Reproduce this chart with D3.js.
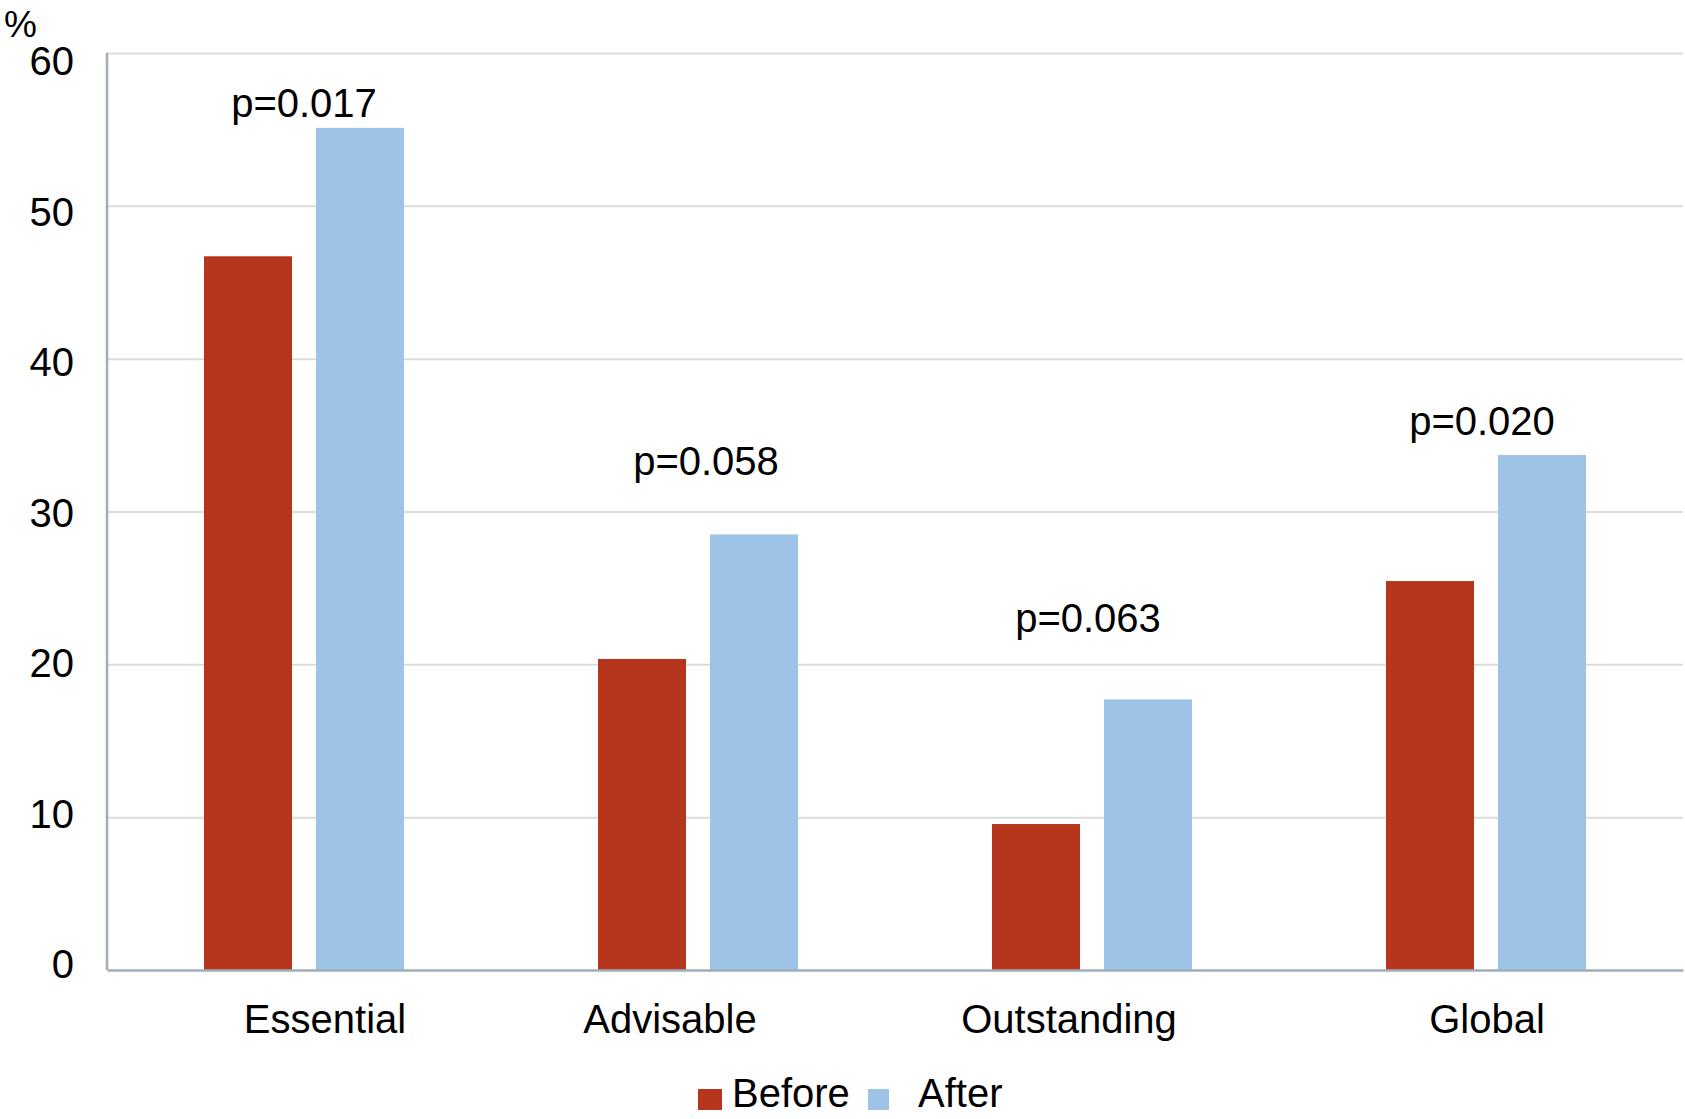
<!DOCTYPE html>
<html>
<head>
<meta charset="utf-8">
<script src="https://cdn.jsdelivr.net/npm/d3@7"></script>
<style>
	body { margin: 0; background: #fff; }
	svg { display: block; font-family: "Liberation Sans", Arial, Helvetica, sans-serif; }
</style>
</head>
<body>
<div id="chart"></div>
<script>
// ----- data -----
var categories = ["Essential", "Advisable", "Outstanding", "Global"]
var series = ["Before", "After"]
var before = [46.7, 20.35, 9.55, 25.45]
var after = [55.1, 28.5, 17.7, 33.7]
var pValues = ["p=0.017", "p=0.058", "p=0.063", "p=0.020"]
var yTicks = [0, 10, 20, 30, 40, 50, 60]

// ----- layout (hand placed in the original) -----
var pLabelAt = [55.8, 32.4, 22.1, 35.0]   // baseline of the p label, in % units
var pNudge = [0, 8, -4, -4]                // x offset of p labels, px
var labelNudge = [21, -28, -23, 1]         // x offset of category labels, px

var W = 1685, H = 1119
var margin = {top: 53, right: 2, bottom: 149, left: 107}
var color = {Before: "#b5361c", After: "#9dc3e6"}

var svg = d3.select("#chart").append("svg")
	.attr("width", W)
	.attr("height", H)

var y = d3.scaleLinear()
	.domain([0, 60])
	.range([H - margin.bottom, margin.top])

// the tick labels in the original sit on a slightly tighter scale than the grid
var yLabel = d3.scaleLinear()
	.domain([0, 60])
	.range([963.5, 60.5])

var x0 = d3.scaleBand()
	.domain(categories)
	.range([margin.left, W - margin.right])
	.padding(0)

var bw = x0.bandwidth()
var x1 = d3.scaleBand()
	.domain(series)
	.range([bw / 2 - 100, bw / 2 + 100])
	.paddingInner(0.214)

// grid lines
svg.append("g")
	.attr("class", "grid")
	.attr("transform", "translate(" + margin.left + ",0)")
	.call(d3.axisLeft(y).tickValues(yTicks.slice(1)).tickSize(-(W - margin.left - margin.right)).tickFormat(""))
	.call(function(g) {
		g.select(".domain").remove()
		g.selectAll("line").attr("stroke", "#dcdcdc").attr("stroke-width", 2)
	})

// y axis labels
svg.append("g")
	.attr("class", "y axis")
	.attr("transform", "translate(" + margin.left + ",0)")
	.call(d3.axisLeft(yLabel).tickValues(yTicks).tickSize(0).tickPadding(33))
	.call(function(g) {
		g.select(".domain").remove()
		g.selectAll("text").attr("font-size", 40).attr("fill", "#000").attr("dy", "0.36em")
	})

// bars
var rows = categories.map(function(c, i) {
	return {cat: c, vals: [{s: "Before", v: before[i]}, {s: "After", v: after[i]}]}
})

var group = svg.append("g")
	.selectAll("g")
	.data(rows)
	.enter()
	.append("g")
	.attr("transform", function(d) { return "translate(" + x0(d.cat) + ",0)" })

group.selectAll("rect")
	.data(function(d) { return d.vals })
	.enter()
	.append("rect")
	.attr("x", function(d) { return x1(d.s) })
	.attr("width", x1.bandwidth())
	.attr("y", function(d) { return y(d.v) })
	.attr("height", function(d) { return y(0) - y(d.v) })
	.attr("fill", function(d) { return color[d.s] })

// p values
svg.append("g")
	.selectAll("text")
	.data(pValues)
	.enter()
	.append("text")
	.attr("x", function(d, i) { return x0(categories[i]) + bw / 2 + pNudge[i] })
	.attr("y", function(d, i) { return y(pLabelAt[i]) })
	.attr("text-anchor", "middle")
	.attr("font-size", 40)
	.text(function(d) { return d })

// left axis line
svg.append("line")
	.attr("x1", margin.left).attr("x2", margin.left)
	.attr("y1", y(60)).attr("y2", y(0))
	.attr("stroke", "#9eafbb").attr("stroke-width", 2.5)

// x axis
svg.append("g")
	.attr("class", "x axis")
	.attr("transform", "translate(0," + y(0) + ")")
	.call(d3.axisBottom(x0).tickSize(0).tickPadding(35))
	.call(function(g) {
		g.select(".domain").attr("stroke", "#9eafbb").attr("stroke-width", 2.5)
		g.selectAll("text")
			.attr("font-size", 40)
			.attr("fill", "#000")
			.attr("transform", function(d, i) { return "translate(" + labelNudge[i] + ",0)" })
	})

// "%" unit label
svg.append("text")
	.attr("x", 4)
	.attr("y", 37)
	.attr("font-size", 37)
	.text("%")

// legend
var legend = svg.append("g").attr("class", "legend")
var legendX = [698, 868]
var legendTextX = [732, 918]
series.forEach(function(s, i) {
	legend.append("rect")
		.attr("x", legendX[i]).attr("y", 1089)
		.attr("width", i === 0 ? 24 : 21).attr("height", 21)
		.attr("fill", color[s])
	legend.append("text")
		.attr("x", legendTextX[i]).attr("y", 1107)
		.attr("font-size", 40)
		.text(s)
})
</script>
</body>
</html>
